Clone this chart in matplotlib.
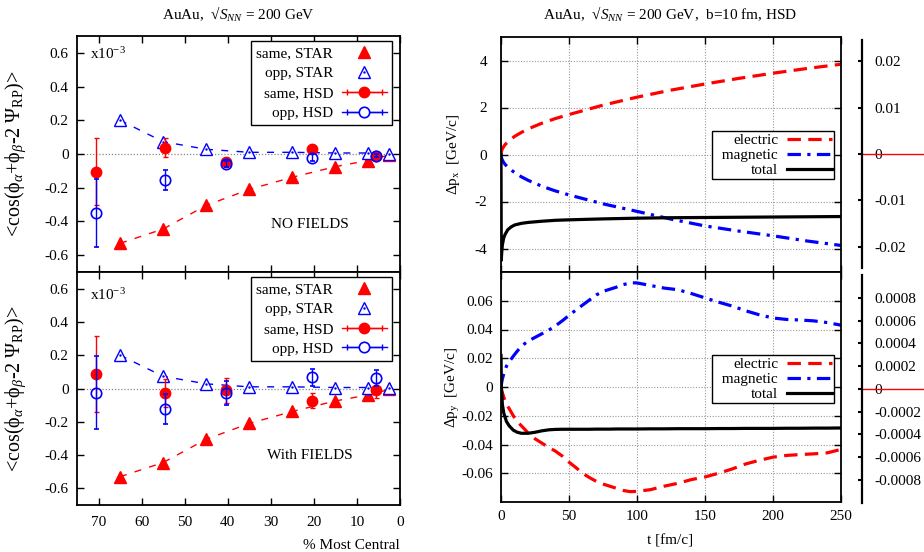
import matplotlib
matplotlib.use("Agg")
import matplotlib.pyplot as plt
from matplotlib.lines import Line2D
from matplotlib.legend_handler import HandlerLine2D
from matplotlib.ticker import FixedLocator, FuncFormatter

plt.rcParams["font.family"] = ["Liberation Serif", "DejaVu Serif"]
plt.rcParams["font.size"] = 11
plt.rcParams["mathtext.fontset"] = "custom"
plt.rcParams["mathtext.rm"] = "Liberation Serif"
plt.rcParams["mathtext.it"] = "Liberation Serif:italic"
plt.rcParams["mathtext.bf"] = "Liberation Serif:bold"
plt.rcParams["axes.unicode_minus"] = False

RED, BLUE = "#ff0000", "#0000ff"

# --- left: STAR data (centrality bins) and HSD points
cent_star = [65, 55, 45, 35, 25, 15, 7.5, 2.5]
same_star = [-0.53, -0.445, -0.305, -0.21, -0.138, -0.075, -0.039, -0.006]
opp_star = [0.2, 0.073, 0.028, 0.01, 0.01, 0.006, 0.006, 0.002]

cent_hsd = [70.5, 54.5, 40.5, 20.5, 5.5]
same_nof = [-0.105, 0.038, -0.045, 0.03, -0.01]
same_nof_err = [0.2, 0.056, 0.02, 0.01, 0.01]
opp_nof = [-0.35, -0.155, -0.06, -0.022, -0.01]
opp_nof_err = [0.2, 0.058, 0.02, 0.02, 0.01]
same_fld = [0.087, -0.026, -0.012, -0.075, -0.012]
same_fld_err = [0.228, 0.085, 0.075, 0.045, 0.045]
opp_fld = [-0.026, -0.123, -0.028, 0.067, 0.063]
opp_fld_err = [0.22, 0.09, 0.072, 0.052, 0.047]

# --- right: momentum kicks vs time
t_x = [0, 0.2, 0.5, 1, 2, 3, 5, 7.5, 10, 15, 20, 30, 40, 50, 75, 100,
       125, 150, 175, 200, 225, 250]
el_x = [0, 0.1, 0.17, 0.24, 0.34, 0.42, 0.54, 0.66, 0.77, 0.94, 1.09, 1.33,
        1.53, 1.70, 2.1, 2.44, 2.74, 3.0, 3.24, 3.46, 3.66, 3.84]
mag_x = [0, -0.1, -0.17, -0.24, -0.34, -0.42, -0.54, -0.66, -0.77, -0.95,
         -1.1, -1.35, -1.55, -1.72, -2.1, -2.42, -2.75, -3.04, -3.26, -3.46,
         -3.68, -3.87]
tot_x = [0, -4.5, -4.2, -3.85, -3.55, -3.4, -3.2, -3.08, -3.0, -2.93, -2.89,
         -2.84, -2.8, -2.78, -2.74, -2.71, -2.69, -2.68, -2.67, -2.66, -2.65,
         -2.64]

t_y = [0, 0.3, 1, 2, 4, 6, 9, 12, 15, 20, 25, 30, 35, 40, 45, 50, 55, 60, 65,
       70, 75, 80, 85, 90, 95, 100, 110, 120, 130, 140, 150, 160, 170, 180,
       190, 200, 210, 220, 230, 240, 250]
mag_y = [0, 0.002, 0.0056, 0.009, 0.0145, 0.0175, 0.0214, 0.025, 0.0284,
         0.032, 0.0345, 0.037, 0.0395, 0.0425, 0.046, 0.0498, 0.0535, 0.057,
         0.0605, 0.064, 0.0665, 0.068, 0.0695, 0.0712, 0.0725, 0.0724, 0.0706,
         0.0688, 0.0677, 0.065, 0.062, 0.059, 0.0563, 0.053, 0.0502, 0.048,
         0.047, 0.0466, 0.046, 0.0448, 0.043]
el_y = [0, -0.002, -0.004, -0.007, -0.012, -0.015, -0.02, -0.024, -0.027,
        -0.032, -0.036, -0.039, -0.042, -0.0446, -0.048, -0.0523, -0.056,
        -0.06, -0.063, -0.0656, -0.0675, -0.069, -0.0705, -0.072, -0.0728,
        -0.0726, -0.0714, -0.069, -0.067, -0.0644, -0.0626, -0.06, -0.057,
        -0.0535, -0.051, -0.0488, -0.0476, -0.047, -0.0465, -0.0458, -0.0434]
tot_y = [0.022, 0.0, -0.012, -0.018, -0.024, -0.027, -0.030, -0.0315,
         -0.0322, -0.0322, -0.0315, -0.0305, -0.0298, -0.0295, -0.0294,
         -0.0294, -0.0294, -0.0294, -0.0294, -0.0293, -0.0293, -0.0293,
         -0.0292, -0.0292, -0.0292, -0.0292, -0.0291, -0.0291, -0.029,
         -0.029, -0.029, -0.0289, -0.0289, -0.0288, -0.0288, -0.0288,
         -0.0287, -0.0287, -0.0286, -0.0286, -0.0285]

twin_top_ticks = [-0.02, -0.01, 0, 0.01, 0.02]
twin_bot_ticks = [-0.0008, -0.0006, -0.0004, -0.0002, 0, 0.0002, 0.0004,
                  0.0006, 0.0008]

W, H = 924, 552


def rect(x0, y0, x1, y1):
    return [x0 / W, 1 - y1 / H, (x1 - x0) / W, (y1 - y0) / H]


fmt = FuncFormatter(lambda v, p: f"{v:g}")
fig = plt.figure(figsize=(W / 100, H / 100), dpi=100)


def style_frame(ax):
    for s in ax.spines.values():
        s.set_linewidth(1.3)
    ax.tick_params(direction="in", length=5, width=1, top=True, right=True,
                   labelsize=11)


# ---------------- left panels
ax_l1 = fig.add_axes(rect(77, 36, 400, 272))
ax_l2 = fig.add_axes(rect(77, 272, 400, 505))
panels = [(ax_l1, same_nof, same_nof_err, opp_nof, opp_nof_err, "NO FIELDS", 0.924, 0.203),
          (ax_l2, same_fld, same_fld_err, opp_fld, opp_fld_err, "With FIELDS", 0.90, 0.212)]
for ax, s_v, s_e, o_v, o_e, tag, ypos, tpos in panels:
    style_frame(ax)
    ax.axhline(0, color="#888888", lw=0.9, ls=(0, (1, 1.5)), zorder=1)
    ax.plot(cent_star, same_star, color=RED, lw=1.0, dashes=(5, 6), zorder=2)
    ax.plot(cent_star, same_star, ls="none", marker="^", ms=8.5, color=RED,
            zorder=4)
    ax.plot(cent_star, opp_star, color=BLUE, lw=1.0, dashes=(5, 6), zorder=2)
    ax.plot(cent_star, opp_star, ls="none", marker="^", ms=8.5, mfc="white",
            mec=BLUE, mew=1.0, zorder=4)
    ax.plot(cent_star, opp_star, ls="none", marker=".", ms=1.5, color=BLUE,
            zorder=5)
    ax.errorbar(cent_hsd, s_v, yerr=s_e, fmt="o", color=RED, ms=7.5, lw=1.0,
                capsize=1.8, capthick=1.0, zorder=5)
    ax.errorbar(cent_hsd, o_v, yerr=o_e, fmt="o", color=BLUE, ms=7.5,
                mfc="none", mew=1.2, lw=1.0, capsize=1.8, capthick=1.0, zorder=6)
    ax.set_xlim(75, 0)
    ax.set_ylim(-0.7, 0.7)
    ax.xaxis.set_major_locator(FixedLocator(range(0, 71, 10)))
    ax.yaxis.set_major_locator(FixedLocator([-0.6, -0.4, -0.2, 0, 0.2, 0.4, 0.6]))
    ax.yaxis.set_major_formatter(fmt)
    ax.tick_params(axis="y", pad=6)
    ax.tick_params(axis="x", pad=8)
    ax.text(0.04, ypos, r"x10$^{-3}$", transform=ax.transAxes, fontsize=11,
            va="center", ha="left")
    ax.text(0.72, tpos, tag, transform=ax.transAxes, fontsize=11,
            ha="center", va="center")
    ax.set_ylabel(r"<cos($\mathrm{\phi}_\alpha$+$\mathrm{\phi}_\beta$-2 "
                  r"$\mathrm{\Psi_{RP}}$)>", fontsize=14.5)
    ax.yaxis.set_label_coords(-0.152, 0.5)

    cap_r = Line2D([], [], color=RED, lw=1.0, marker="|", ms=5, mew=1.0)
    cap_b = Line2D([], [], color=BLUE, lw=1.0, marker="|", ms=5, mew=1.0)
    handles = [
        Line2D([], [], ls="none", marker="^", ms=8.5, color=RED),
        (Line2D([], [], ls="none", marker="^", ms=8.5, mfc="white", mec=BLUE,
                mew=1.0),
         Line2D([], [], ls="none", marker=".", ms=1.5, color=BLUE)),
        (cap_r, Line2D([], [], color=RED, lw=1.0, marker="o", ms=7.5)),
        (cap_b, Line2D([], [], color=BLUE, lw=1.0, marker="o", ms=7.5,
                       mfc="white", mew=1.2)),
    ]
    labels = ["same, STAR", "opp, STAR", "same, HSD", "opp, HSD"]
    leg = ax.legend(handles, labels, loc="upper right",
                    bbox_to_anchor=(0.975, 0.979), borderaxespad=0,
                    markerfirst=False, fancybox=False, framealpha=1,
                    edgecolor="black", fontsize=11, borderpad=0.35,
                    labelspacing=0.41, handlelength=2.9, handletextpad=0.6,
                    numpoints=1,
                    handler_map={cap_r: HandlerLine2D(numpoints=2),
                                 cap_b: HandlerLine2D(numpoints=2)})
    leg.get_frame().set_linewidth(1.0)

ax_l1.tick_params(labelbottom=False)
ax_l2.set_xlabel("% Most Central", fontsize=11, ha="right", va="center")
ax_l2.xaxis.set_label_coords(1.0, -0.172)
fig.text(238 / W, 1 - 14 / H, "AuAu,  √" + r"$S_{NN}$" + " = 200 GeV",
         ha="center", va="center", fontsize=11)

# ---------------- right panels
ax_r1 = fig.add_axes(rect(501, 37, 841, 272))
ax_r2 = fig.add_axes(rect(501, 272, 841, 502))
rdata = [(ax_r1, t_x, el_x, mag_x, tot_x, (-5, 5), [-4, -2, 0, 2, 4],
          r"$\Delta\mathrm{p_x}$  [GeV/c]", 0.6, 10),
         (ax_r2, t_y, el_y, mag_y, tot_y, (-0.08, 0.08),
          [-0.06, -0.04, -0.02, 0, 0.02, 0.04, 0.06],
          r"$\Delta\mathrm{p_y}$  [GeV/c]", 0.639, 6)]
for ax, t, el, mag, tot, yl, yt, lab, ly, ypad in rdata:
    style_frame(ax)
    ax.grid(True, color="#999999", lw=0.8, ls=(0, (1, 1.5)))
    ax.set_axisbelow(True)
    ax.plot(t, el, color=RED, lw=2.3, dashes=(4.2, 2.3), label="electric")
    ax.plot(t, mag, color=BLUE, lw=2.3, dashes=(4.2, 2.0, 1.0, 2.0),
            label="  magnetic")
    ax.plot(t, tot, color="black", lw=2.3, label="total")
    ax.set_xlim(0, 250)
    ax.set_ylim(*yl)
    ax.xaxis.set_major_locator(FixedLocator(range(0, 251, 50)))
    ax.yaxis.set_major_locator(FixedLocator(yt))
    ax.yaxis.set_major_formatter(fmt)
    ax.tick_params(axis="y", pad=ypad)
    ax.tick_params(axis="x", pad=6)
    ax.set_ylabel(lab, fontsize=11)
    ax.yaxis.set_label_coords(-0.115, 0.5)
    leg = ax.legend(loc="upper right", bbox_to_anchor=(0.979, ly),
                    borderaxespad=0, markerfirst=False, fancybox=False,
                    framealpha=1, edgecolor="black", fontsize=11,
                    borderpad=0.15, labelspacing=0.09, handlelength=2.9,
                    handletextpad=0.6)
    leg.get_frame().set_linewidth(1.0)

ax_r1.tick_params(labelbottom=False)
ax_r2.set_xlabel("t [fm/c]", fontsize=11, va="center")
ax_r2.xaxis.set_label_coords(0.497, -0.17)
fig.text(670 / W, 1 - 14 / H,
         "AuAu,  √" + r"$S_{NN}$" + " = 200 GeV,  b=10 fm, HSD",
         ha="center", va="center", fontsize=11)

# ---------------- detached right-hand scales
twins = [(rect(845, 40, 861.5, 268), 0.0246, twin_top_ticks),
         (rect(845, 275, 861.5, 502.7), 0.001, twin_bot_ticks)]
for pos, lim, ticks in twins:
    axt = fig.add_axes(pos)
    axt.patch.set_visible(False)
    for name, s in axt.spines.items():
        s.set_visible(name == "right")
    axt.spines["right"].set_linewidth(1.6)
    axt.set_xticks([])
    axt.set_ylim(-lim, lim)
    axt.yaxis.tick_right()
    axt.yaxis.set_major_locator(FixedLocator(ticks))
    axt.yaxis.set_major_formatter(fmt)
    axt.tick_params(axis="y", direction="in", length=3, width=1.5, pad=9,
                    labelsize=11)
    axt.plot([1, 1 + (W - 861.5) / 16.5], [0, 0], color=RED, lw=1.0,
             transform=axt.get_yaxis_transform(), clip_on=False)

fig.savefig("out.png", dpi=100)
